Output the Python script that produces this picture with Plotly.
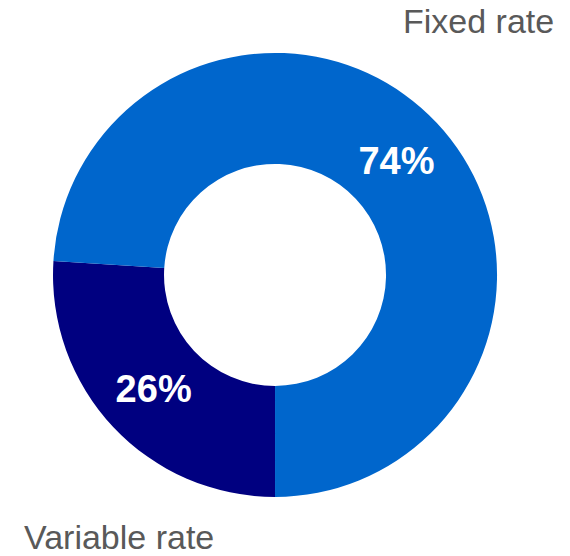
import plotly.graph_objects as go

# Share of borrowing by rate type
rate_types = ["Variable rate", "Fixed rate"]
shares = [26, 74]
slice_colors = ["#000080", "#0066CC"]

fig = go.Figure(
    go.Pie(
        labels=rate_types,
        values=shares,
        hole=0.5,
        sort=False,
        direction="clockwise",
        rotation=180,
        marker=dict(colors=slice_colors, line=dict(width=0)),
        texttemplate="%{value}%",
        textposition="inside",
        insidetextorientation="horizontal",
        textfont=dict(family="Liberation Sans, Arial", size=38, color="white", weight="bold"),
        hoverinfo="label+percent",
        showlegend=False,
        domain=dict(x=[0.093, 0.872], y=[0.106, 0.905]),
    )
)

label_font = dict(family="Liberation Sans, Arial", size=34, color="#595959")
fig.add_annotation(text="Fixed rate", x=1.0, y=1.0, xref="paper", yref="paper",
                   xanchor="right", yanchor="top", xshift=-14, yshift=0,
                   showarrow=False, font=label_font)
fig.add_annotation(text="Variable rate", x=0.0, y=0.0, xref="paper", yref="paper",
                   xanchor="left", yanchor="bottom", xshift=22, yshift=-2,
                   showarrow=False, font=label_font)

fig.update_layout(
    width=570,
    height=556,
    margin=dict(l=0, r=0, t=0, b=0),
    paper_bgcolor="white",
    plot_bgcolor="white",
)

fig.write_html("out.html")
